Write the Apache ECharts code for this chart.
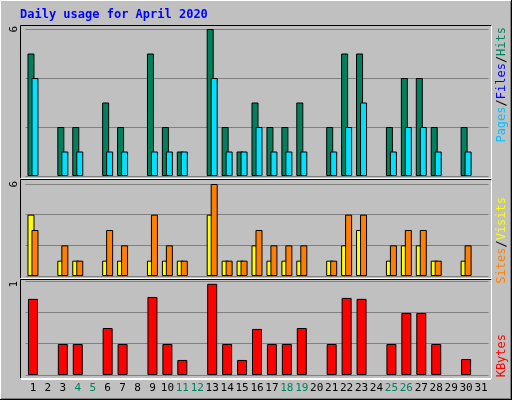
<!DOCTYPE html>
<html><head><meta charset="utf-8">
<script src="https://cdn.jsdelivr.net/npm/echarts@6/dist/echarts.min.js"></script>
<style>html,body{margin:0;padding:0;background:#c0c0c0}#c{width:512px;height:400px}</style>
</head><body><div id="c"></div>
<script>
const days = Array.from({length:31},(_,i)=>String(i+1));
const weekend = [4,5,11,12,18,19,25,26];
const hits  = [5,0,2,2,0,3,2,0,5,2,1,0,6,2,1,3,2,2,3,0,2,5,5,0,2,4,4,2,0,2,0];
const files = [4,0,1,1,0,1,1,0,1,1,1,0,4,1,1,2,1,1,1,0,1,2,3,0,1,2,2,1,0,1,0];
const visits= [4,0,1,1,0,1,1,0,1,1,1,0,4,1,1,2,1,1,1,0,1,2,3,0,1,2,2,1,0,1,0];
const sites = [3,0,2,1,0,3,2,0,4,2,1,0,6,1,1,3,2,2,2,0,1,4,4,0,2,3,3,1,0,2,0];
const kbytes= [0.81,0,0.33,0.33,0,0.5,0.33,0,0.83,0.33,0.16,0,0.97,0.33,0.16,0.49,0.33,0.33,0.5,0,0.33,0.82,0.81,0,0.33,0.66,0.66,0.33,0,0.17,0];
const bb = v=>v.map(x=>x===0?null:x);
const ch = echarts.init(document.getElementById('c'));
const L=25.5,W=463;
const grids=[{left:L,width:W,top:29,height:147},{left:L,width:W,top:184,height:92},{left:L,width:W,top:281,height:94}];
const yAx=(i,max,intv)=>({gridIndex:i,type:'value',min:0,max:max,interval:intv,axisLabel:{show:false},axisLine:{show:false},axisTick:{show:false},splitLine:{lineStyle:{color:'#808080',width:1}}});
const xAx=(i,show)=>({gridIndex:i,type:'category',data:days,axisLine:{show:false},axisTick:{show:false},
  axisLabel:{show:show,interval:0,fontFamily:'DejaVu Sans Mono',fontSize:11,margin:8,color:(v)=>weekend.includes(+v)?'#00805C':'#000'}});
const bs={borderColor:'#000',borderWidth:1};
const pane=(x,y,w,h)=>[{type:'line',shape:{x1:x,y1:y,x2:x+w,y2:y},style:{stroke:'#000',lineWidth:1}},
 {type:'line',shape:{x1:x,y1:y,x2:x,y2:y+h},style:{stroke:'#000',lineWidth:1}},
 {type:'line',shape:{x1:x,y1:y+h,x2:x+w,y2:y+h},style:{stroke:'#fff',lineWidth:1}},
 {type:'line',shape:{x1:x+w,y1:y,x2:x+w,y2:y+h},style:{stroke:'#fff',lineWidth:1}}];
const vtxt=(x,y,parts,fs)=>({type:'text',x:x,y:y,rotation:Math.PI/2,style:{rich:{a:{fill:parts[0][1]},b:{fill:parts[1]?parts[1][1]:'#000'},c:{fill:parts[2]?parts[2][1]:'#000'},s:{fill:'#000'}},
  text:parts.map((p,i)=>'{'+'abc'[i]+'|'+p[0]+'}').join('{s|/}'),font:(fs||12)+'px "DejaVu Sans Mono"',align:'right',verticalAlign:'top'}});
ch.setOption({
 animation:false,backgroundColor:'#c0c0c0',
 grid:grids,
 xAxis:[xAx(0,false),xAx(1,false),xAx(2,true)],
 yAxis:[yAx(0,6,2),yAx(1,6,2),yAx(2,1,1/3)],
 series:[
  {type:'bar',xAxisIndex:0,yAxisIndex:0,data:bb(hits),barWidth:7,barGap:'-43%',itemStyle:Object.assign({color:'#00805C'},bs)},
  {type:'bar',xAxisIndex:0,yAxisIndex:0,data:bb(files),barWidth:7,itemStyle:Object.assign({color:'#00E0FF'},bs)},
  {type:'bar',xAxisIndex:1,yAxisIndex:1,data:bb(visits),barWidth:7,barGap:'-43%',itemStyle:Object.assign({color:'#FFFF00'},bs)},
  {type:'bar',xAxisIndex:1,yAxisIndex:1,data:bb(sites),barWidth:7,itemStyle:Object.assign({color:'#FF8000'},bs)},
  {type:'bar',xAxisIndex:2,yAxisIndex:2,data:bb(kbytes),barWidth:10,itemStyle:Object.assign({color:'#FF0000'},bs)}
 ],
 graphic:[
  {type:'rect',shape:{x:0.5,y:0.5,width:510,height:398},style:{fill:'none',stroke:'#fff',lineWidth:1},z:-1},
  {type:'line',shape:{x1:0,y1:399.5,x2:512,y2:399.5},style:{stroke:'#000',lineWidth:1}},
  {type:'line',shape:{x1:511.5,y1:0,x2:511.5,y2:400},style:{stroke:'#000',lineWidth:1}},
  {type:'line',shape:{x1:1,y1:398.5,x2:511,y2:398.5},style:{stroke:'#808080',lineWidth:1}},
  {type:'line',shape:{x1:510.5,y1:1,x2:510.5,y2:399},style:{stroke:'#808080',lineWidth:1}},
  ...pane(20.5,25.5,471,153),...pane(20.5,179.5,471,99),...pane(20.5,279.5,471,99),...pane(20.5,379.5,471,0),
  {type:'text',x:20,y:9,style:{text:'Daily usage for April 2020',fill:'#0000FF',font:'bold 12px "DejaVu Sans Mono"'}},
  {type:'text',x:9,y:26,rotation:Math.PI/2,style:{text:'6',fill:'#000',font:'11px "DejaVu Sans Mono"',align:'right',verticalAlign:'top'}},
  {type:'text',x:9,y:181,rotation:Math.PI/2,style:{text:'6',fill:'#000',font:'11px "DejaVu Sans Mono"',align:'right',verticalAlign:'top'}},
  {type:'text',x:9,y:281,rotation:Math.PI/2,style:{text:'1',fill:'#000',font:'11px "DejaVu Sans Mono"',align:'right',verticalAlign:'top'}},
  vtxt(496,27,[['Pages','#00C0FF'],['Files','#0000FF'],['Hits','#00805C']]),
  vtxt(496,197,[['Sites','#FF8000'],['Visits','#FFFF00']]),
  {type:'text',x:496,y:334,rotation:Math.PI/2,style:{text:'KBytes',fill:'#FF0000',font:'12px "DejaVu Sans Mono"',align:'right',verticalAlign:'top'}}
 ]
});
</script></body></html>
